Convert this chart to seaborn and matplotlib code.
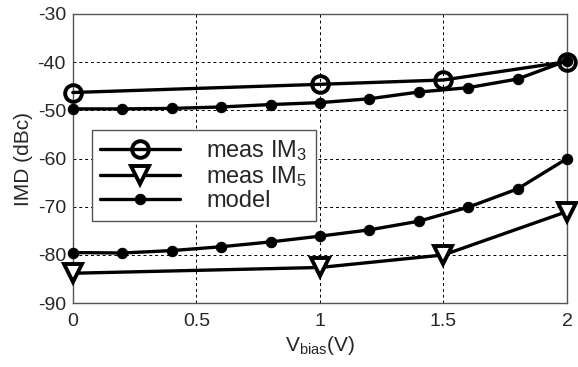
import matplotlib
matplotlib.use("Agg")
import matplotlib.pyplot as plt
import seaborn as sns
import pandas as pd

# data
x_im3 = [0, 1, 1.5, 2]
y_im3 = [-46.3, -44.6, -43.7, -39.9]
x_im5 = [0, 1, 1.5, 2]
y_im5 = [-83.8, -82.6, -80.0, -71.0]
x_model = [0, 0.2, 0.4, 0.6, 0.8, 1.0, 1.2, 1.4, 1.6, 1.8, 2.0]
y_model3 = [-49.7, -49.7, -49.6, -49.3, -48.8, -48.4, -47.6, -46.2, -45.3, -43.5, -39.7]
y_model5 = [-79.5, -79.6, -79.1, -78.3, -77.3, -76.1, -74.8, -73.0, -70.1, -66.3, -60.0]
xticks = [0, 0.5, 1, 1.5, 2]
xticklabels = ["0", "0.5", "1", "1.5", "2"]
yticks = [-90, -80, -70, -60, -50, -40, -30]

sns.set_style("white")
plt.rcParams['font.family'] = ['Liberation Sans', 'DejaVu Sans']
plt.rcParams['mathtext.fontset'] = 'custom'
plt.rcParams['mathtext.rm'] = 'Liberation Sans'
plt.rcParams['mathtext.it'] = 'Liberation Sans'
plt.rcParams['axes.unicode_minus'] = False

fig = plt.figure(figsize=(5.78, 3.67), dpi=100)
ax = fig.add_axes([0.126, 0.174, 0.855, 0.788])

lw = 2.4
sns.lineplot(x=x_im3, y=y_im3, ax=ax, color='black', lw=lw, marker='o', markersize=12,
             markerfacecolor='none', markeredgecolor='black', markeredgewidth=2.8, label='meas IM$_3$', zorder=3)
sns.lineplot(x=x_im5, y=y_im5, ax=ax, color='black', lw=lw, marker='v', markersize=13,
             markerfacecolor='white', markeredgecolor='black', markeredgewidth=2.8, label='meas IM$_5$', zorder=3)
sns.lineplot(x=x_model, y=y_model3, ax=ax, color='black', lw=lw, marker='o', markersize=7.5,
             markeredgecolor='black', markerfacecolor='black', label='model', zorder=4)
sns.lineplot(x=x_model, y=y_model5, ax=ax, color='black', lw=lw, marker='o', markersize=7.5,
             markeredgecolor='black', markerfacecolor='black', label='_nolegend_', zorder=4)
for ln in ax.get_lines():
    ln.set_clip_on(False)

ax.set_xlim(0, 2)
ax.set_ylim(-90, -30)
ax.set_xticks(xticks)
ax.set_xticklabels(xticklabels)
ax.set_yticks(yticks)
ax.grid(True, linestyle=(0, (3, 3)), color='black', lw=0.7)
for s in ax.spines.values():
    s.set_color('#555555')
    s.set_linewidth(1.0)
ax.tick_params(axis='x', labelsize=14, length=0, pad=7)
ax.tick_params(axis='y', labelsize=14, length=0, pad=5)
ax.set_ylabel('IMD (dBc)', fontsize=15, labelpad=3)
ax.set_xlabel('V$_{\\mathrm{bias}}$(V)', fontsize=15, labelpad=3)

leg = ax.legend(loc='upper left', bbox_to_anchor=(0.038, 0.599), fontsize=17, handlelength=3.4,
                frameon=True, fancybox=False, framealpha=1, edgecolor='#555555',
                borderpad=0.35, labelspacing=0.05, handletextpad=1.1, borderaxespad=0)
leg.get_frame().set_linewidth(1.0)

fig.savefig('out.png', dpi=100)
